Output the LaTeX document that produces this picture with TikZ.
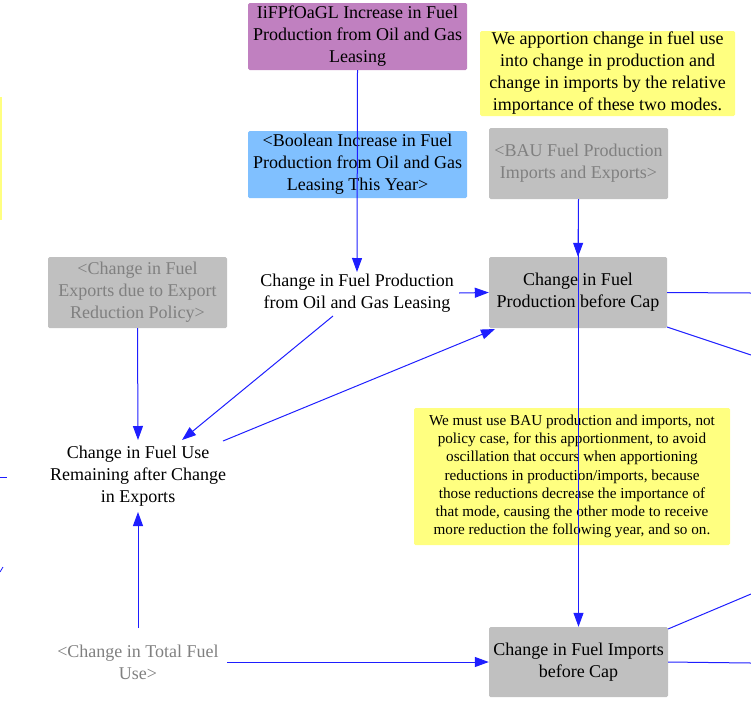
\documentclass[tikz,border=0pt]{standalone}
\usepackage{fontspec}
\setmainfont{Liberation Serif}
\usetikzlibrary{arrows.meta}
\definecolor{pinkfill}{RGB}{192,128,192}
\definecolor{bluefill}{RGB}{128,192,255}
\definecolor{notefill}{RGB}{255,255,128}
\definecolor{grayfill}{RGB}{192,192,192}
\definecolor{graytext}{RGB}{128,128,128}
\definecolor{linkblue}{RGB}{30,30,255}
\tikzset{
  lbl/.style={align=center, font=\fontsize{18}{22}\selectfont, inner sep=0pt},
  box/.style={lbl, rounded corners=1.5pt, draw=none},
  pinkbox/.style={box, fill=pinkfill},
  bluebox/.style={box, fill=bluefill},
  shadowbox/.style={box, fill=grayfill, text=graytext},
  varbox/.style={box, fill=grayfill},
  notebox/.style={box, fill=notefill},
  ghost/.style={lbl, text=graytext},
  link/.style={draw=linkblue, line width=1pt, -{Triangle[length=14pt,width=10pt]}},
  plainlink/.style={draw=linkblue, line width=1pt},
}
\begin{document}
\begin{tikzpicture}[x=1pt,y=-1pt]
\path[use as bounding box] (0,0) rectangle (751,718);
\fill[notefill] (0,97) rectangle (2,220);

\node[pinkbox, minimum width=219pt, minimum height=67pt] (pink) at (357.5,36.5)
  {IiFPfOaGL Increase in Fuel\\Production from Oil and Gas\\Leasing};
\node[bluebox, minimum width=219pt, minimum height=67pt] (bool) at (357.5,164.5)
  {<Boolean Increase in Fuel\\Production from Oil and Gas\\Leasing This Year>};
\node[notebox, minimum width=255pt, minimum height=85pt] (note1) at (607.5,73.5)
  {We apportion change in fuel use\\into change in production and\\change in imports by the relative\\importance of these two modes.};
\node[shadowbox, minimum width=179pt, minimum height=71pt] (bau) at (578.5,163.5)
  {<BAU Fuel Production\\Imports and Exports>};
\node[varbox, minimum width=178pt, minimum height=71pt] (prod) at (578,292.5)
  {Change in Fuel\\Production before Cap};
\node[notebox, minimum width=316pt, minimum height=137pt, font=\fontsize{15.2}{18.2}\selectfont] (note2) at (572,476.5)
  {We must use BAU production and imports, not\\policy case, for this apportionment, to avoid\\oscillation that occurs when apportioning\\reductions in production/imports, because\\those reductions decrease the importance of\\that mode, causing the other mode to receive\\more reduction the following year, and so on.};
\node[varbox, minimum width=179pt, minimum height=70pt] (imp) at (578.5,662)
  {Change in Fuel Imports\\before Cap};
\node[shadowbox, minimum width=179pt, minimum height=71pt] (exp) at (137.5,292.5)
  {<Change in Fuel\\Exports due to Export\\Reduction Policy>};
\node[lbl, inner sep=2pt] (lease) at (357,293)
  {Change in Fuel Production\\from Oil and Gas Leasing};
\node[lbl, inner sep=2pt] (use) at (138,476)
  {Change in Fuel Use\\Remaining after Change\\in Exports};
\node[ghost, inner sep=2pt] (total) at (138,662)
  {<Change in Total Fuel\\Use>};

\coordinate (r1) at (751,293);
\coordinate (r2) at (751,355);
\coordinate (r3) at (751,594);
\coordinate (r4) at (751,663);
\coordinate (l1a) at (0,477);
\coordinate (l1b) at (7,477);
\coordinate (l2a) at (0,572);
\coordinate (l2b) at (3,567);

\draw[link] (pink.south) -- (357,272);
\draw[link] (bau.south) -- (prod.north);
\draw[link] (bau.south) -- (imp.north);
\draw[link] (459,293) -- (prod.west);
\draw[link] (exp.south) -- (138,440);
\draw[link] (333,316) -- (182,440);
\draw[link] (223,441) -- (495,329);
\draw[link] (138,628) -- (138,512);
\draw[link] (227,662) -- (imp.west);
\draw[plainlink] (prod.east) -- (r1);
\draw[plainlink] (667,327) -- (r2);
\draw[plainlink] (668,629) -- (r3);
\draw[plainlink] (imp.east) -- (r4);
\draw[plainlink] (l1a) -- (l1b);
\draw[plainlink, line width=0.8pt] (l2a) -- (l2b);
\end{tikzpicture}
\end{document}
